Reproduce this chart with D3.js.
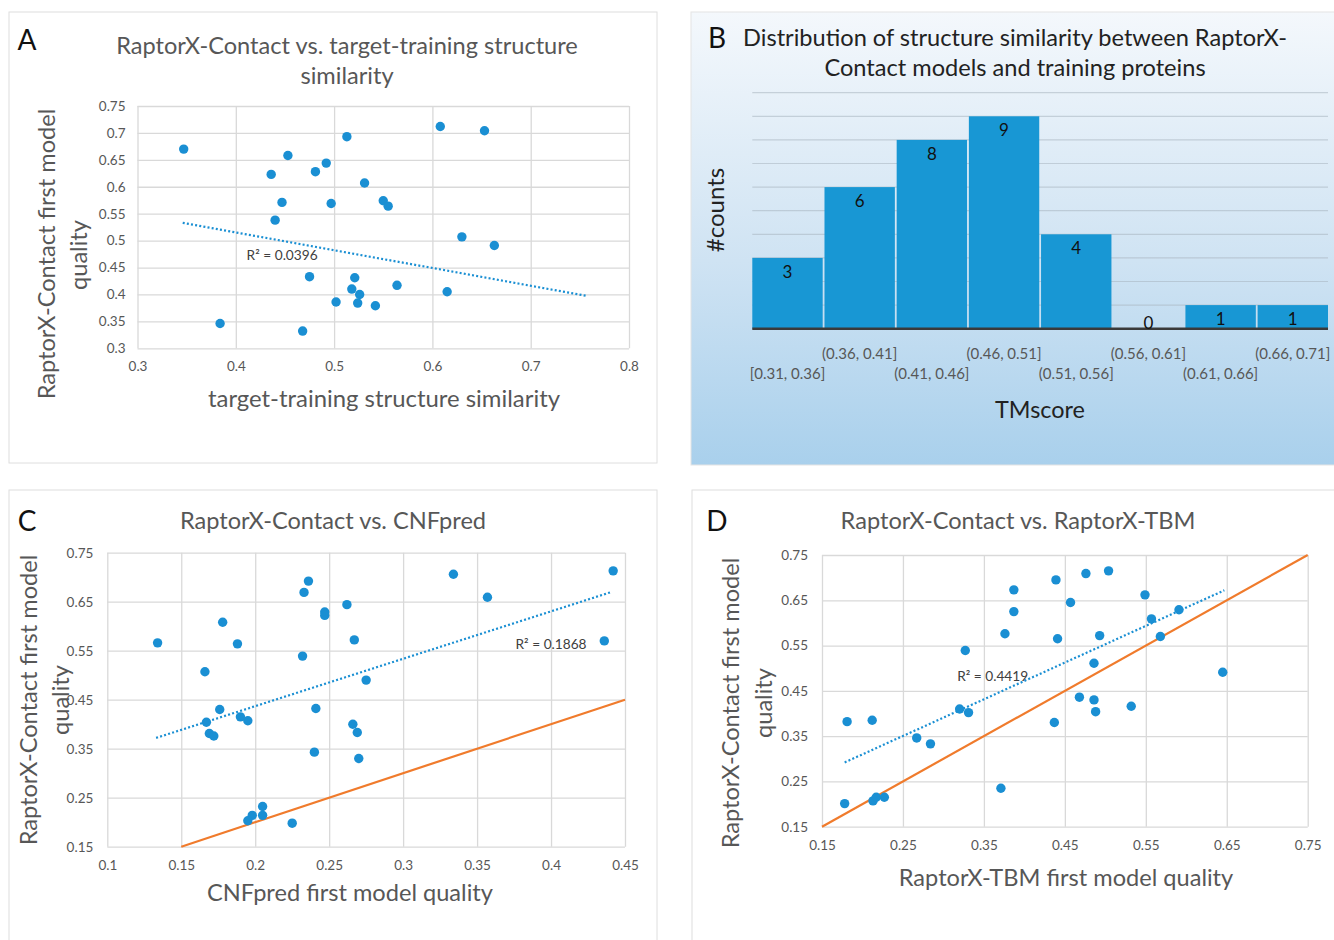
<!DOCTYPE html>
<html>
<head>
<meta charset="utf-8">
<script src="https://cdnjs.cloudflare.com/ajax/libs/d3/7.8.5/d3.min.js"></script>
<style>
  body { margin: 0; background: #fff; }
  svg text { font-family: Lato, "Open Sans", sans-serif; }
</style>
</head>
<body>
<div class="chart"></div>
<script>
const width = 1334;
const height = 940;

// A: target-training structure similarity vs RaptorX-Contact quality
const aSimilarity = [0.347, 0.436, 0.453, 0.447, 0.440, 0.481, 0.492, 0.513, 0.497, 0.531, 0.550, 0.555, 0.475, 0.521,
  0.518, 0.526, 0.502, 0.524, 0.542, 0.384, 0.468, 0.608, 0.653, 0.630, 0.663, 0.564, 0.615];
const aQuality = [0.670, 0.623, 0.658, 0.571, 0.538, 0.628, 0.644, 0.693, 0.569, 0.607, 0.574, 0.564, 0.433, 0.431,
  0.410, 0.400, 0.386, 0.384, 0.379, 0.346, 0.332, 0.712, 0.704, 0.507, 0.491, 0.417, 0.405];
const aTrend = [[0.346, 0.533], [0.758, 0.397]];
const aXTicks = [0.3, 0.4, 0.5, 0.6, 0.7, 0.8];
const aYTicks = [0.3, 0.35, 0.4, 0.45, 0.5, 0.55, 0.6, 0.65, 0.7, 0.75];

// B: histogram of TMscore
const bBins = ["[0.31, 0.36]", "(0.36, 0.41]", "(0.41, 0.46]", "(0.46, 0.51]", "(0.51, 0.56]", "(0.56, 0.61]", "(0.61, 0.66]", "(0.66, 0.71]"];
const bCounts = [3, 6, 8, 9, 4, 0, 1, 1];
const bGridTicks = [1, 2, 3, 4, 5, 6, 7, 8, 9, 10];

// C: CNFpred vs RaptorX-Contact
const cCnfpred = [0.134, 0.178, 0.188, 0.166, 0.176, 0.167, 0.169, 0.172, 0.190, 0.195, 0.236, 0.233, 0.247, 0.247, 0.262, 0.267,
  0.232, 0.275, 0.241, 0.266, 0.269, 0.240, 0.270, 0.205, 0.198, 0.195, 0.205, 0.225, 0.334, 0.357, 0.442, 0.436];
const cQuality = [0.566, 0.608, 0.564, 0.507, 0.430, 0.404, 0.381, 0.376, 0.415, 0.407, 0.692, 0.669, 0.629, 0.622, 0.644, 0.572,
  0.539, 0.490, 0.432, 0.400, 0.383, 0.343, 0.330, 0.232, 0.214, 0.203, 0.214, 0.198, 0.706, 0.659, 0.713, 0.570];
const cTrend = [[0.133, 0.372], [0.440, 0.669]];
const cXTicks = [0.1, 0.15, 0.2, 0.25, 0.3, 0.35, 0.4, 0.45];
const cYTicks = [0.15, 0.25, 0.35, 0.45, 0.55, 0.65, 0.75];

// D: RaptorX-TBM vs RaptorX-Contact
const dTbm = [0.181, 0.212, 0.178, 0.213, 0.217, 0.227, 0.267, 0.284, 0.320, 0.331, 0.327, 0.371, 0.376, 0.387, 0.387, 0.439,
  0.441, 0.437, 0.457, 0.476, 0.504, 0.549, 0.591, 0.557, 0.568, 0.493, 0.486, 0.645, 0.468, 0.486, 0.488, 0.532];
const dQuality = [0.382, 0.385, 0.201, 0.207, 0.215, 0.215, 0.346, 0.333, 0.410, 0.402, 0.539, 0.235, 0.576, 0.673, 0.625, 0.695,
  0.565, 0.380, 0.645, 0.709, 0.715, 0.662, 0.629, 0.609, 0.570, 0.572, 0.511, 0.491, 0.436, 0.430, 0.404, 0.416];
const dTrend = [[0.178, 0.292], [0.647, 0.672]];
const dXTicks = [0.15, 0.25, 0.35, 0.45, 0.55, 0.65, 0.75];
const dYTicks = [0.15, 0.25, 0.35, 0.45, 0.55, 0.65, 0.75];

const dotColor = "#1a8fd3";
const orange = "#f07b2c";
const gray = "#575757";
const fmt = d => String(+d.toFixed(2));

const svg = d3.select(".chart").append("svg")
  .attr("width", width)
  .attr("height", height);

const defs = svg.append("defs");
const grad = defs.append("linearGradient").attr("id", "bgB")
  .attr("x1", 0).attr("y1", 0).attr("x2", 0).attr("y2", 1);
grad.append("stop").attr("offset", "0%").attr("stop-color", "#f4f8fc");
grad.append("stop").attr("offset", "55%").attr("stop-color", "#cfe3f3");
grad.append("stop").attr("offset", "100%").attr("stop-color", "#a9d0ec");

// panel frames
svg.append("rect").attr("x", 9).attr("y", 12).attr("width", 648).attr("height", 451)
  .attr("fill", "#fff").attr("stroke", "#dedede");
svg.append("rect").attr("x", 691).attr("y", 12).attr("width", 650).attr("height", 453)
  .attr("fill", "url(#bgB)").attr("stroke", "#e4e4e4");
svg.append("rect").attr("x", 9).attr("y", 490).attr("width", 648).attr("height", 460)
  .attr("fill", "#fff").attr("stroke", "#dedede");
svg.append("rect").attr("x", 692).attr("y", 490).attr("width", 650).attr("height", 460)
  .attr("fill", "#fff").attr("stroke", "#dedede");

function addText(x, y, txt, size, color, anchor, rotate) {
  const t = svg.append("text")
    .attr("font-size", size)
    .attr("fill", color)
    .attr("text-anchor", anchor || "middle")
    .attr("dy", "0.35em")
    .text(txt);
  if (rotate) t.attr("transform", "translate(" + x + "," + y + ") rotate(-90)");
  else t.attr("x", x).attr("y", y);
  return t;
}

function scatter(p) {
  const x = d3.scaleLinear().domain([p.xTicks[0], p.xTicks[p.xTicks.length - 1]]).range([p.left, p.right]);
  const y = d3.scaleLinear().domain([p.yTicks[0], p.yTicks[p.yTicks.length - 1]]).range([p.bottom, p.top]);
  const g = svg.append("g");

  const yAxis = d3.axisLeft(y).tickValues(p.yTicks).tickFormat(fmt)
    .tickSizeInner(-(p.right - p.left)).tickSizeOuter(0).tickPadding(p.yPad);
  const gy = g.append("g").attr("transform", "translate(" + p.left + ",0)").call(yAxis);
  const xAxis = d3.axisBottom(x).tickValues(p.xTicks).tickFormat(fmt)
    .tickSizeInner(-(p.bottom - p.top)).tickSizeOuter(0).tickPadding(p.xPad);
  const gx = g.append("g").attr("transform", "translate(0," + p.bottom + ")").call(xAxis);
  [gx, gy].forEach(a => {
    a.select(".domain").remove();
    a.selectAll("line").attr("stroke", "#d9d9d9").attr("stroke-width", 1.3);
    a.selectAll("text").attr("fill", gray).attr("font-size", 13.5)
      .style("font-family", "Lato, sans-serif");
  });

  if (p.diag) {
    g.append("line")
      .attr("x1", x(p.diag[0])).attr("y1", y(p.diag[0]))
      .attr("x2", x(p.diag[1])).attr("y2", y(p.diag[1]))
      .attr("stroke", orange).attr("stroke-width", 2.2);
  }

  g.append("line")
    .attr("x1", x(p.trend[0][0])).attr("y1", y(p.trend[0][1]))
    .attr("x2", x(p.trend[1][0])).attr("y2", y(p.trend[1][1]))
    .attr("stroke", dotColor).attr("stroke-width", 2.2).attr("stroke-dasharray", "2,2.2");

  g.selectAll("circle").data(p.xs)
    .enter().append("circle")
    .attr("cx", d => x(d))
    .attr("cy", (d, i) => y(p.ys[i]))
    .attr("r", 4.7)
    .attr("fill", dotColor);

  g.append("text")
    .attr("x", x(p.r2[0])).attr("y", y(p.r2[1]))
    .attr("dy", "0.35em")
    .attr("font-size", 13.7).attr("fill", "#404040")
    .text(p.r2[2]);
}

const T = 23.6; // title / axis title size

// ---- A ----
scatter({ xs: aSimilarity, ys: aQuality, trend: aTrend, xTicks: aXTicks, yTicks: aYTicks,
  left: 137.5, right: 629, top: 106, bottom: 348.3, yPad: 12, xPad: 13,
  r2: [0.411, 0.473, "R² = 0.0396"] });
addText(347, 46, "RaptorX-Contact vs. target-training structure", T, gray);
addText(347, 76, "similarity", T, gray);
addText(27, 40, "A", 28, "#111");
addText(47, 254, "RaptorX-Contact first model", T, gray, "middle", true);
addText(79, 255, "quality", T, gray, "middle", true);
addText(384, 399, "target-training structure similarity", 23.9, gray);

// ---- C ----
scatter({ xs: cCnfpred, ys: cQuality, trend: cTrend, xTicks: cXTicks, yTicks: cYTicks,
  left: 107.3, right: 625, top: 552.7, bottom: 846.7, yPad: 14, xPad: 14, diag: [0.15, 0.45],
  r2: [0.376, 0.564, "R² = 0.1868"] });
addText(333, 521, "RaptorX-Contact vs. CNFpred", T, gray);
addText(27, 521, "C", 28, "#111");
addText(29, 700, "RaptorX-Contact first model", T, gray, "middle", true);
addText(61, 700, "quality", T, gray, "middle", true);
addText(350, 893, "CNFpred first model quality", T, gray);

// ---- D ----
scatter({ xs: dTbm, ys: dQuality, trend: dTrend, xTicks: dXTicks, yTicks: dYTicks,
  left: 822, right: 1307.7, top: 555, bottom: 826.7, yPad: 14, xPad: 14, diag: [0.15, 0.75],
  r2: [0.317, 0.483, "R² = 0.4419"] });
addText(1018, 521, "RaptorX-Contact vs. RaptorX-TBM", T, gray);
addText(717, 521, "D", 28, "#111");
addText(731, 703, "RaptorX-Contact first model", T, gray, "middle", true);
addText(764, 703, "quality", T, gray, "middle", true);
addText(1066, 878, "RaptorX-TBM first model quality", T, gray);

// ---- B ----
const bx = d3.scaleBand().domain(bBins).range([752.3, 1328]).paddingInner(0.025).paddingOuter(0);
const by = d3.scaleLinear().domain([0, 10]).range([328.7, 92.7]);
const gb = svg.append("g");
gb.selectAll("line.grid").data(bGridTicks).enter().append("line")
  .attr("class", "grid")
  .attr("x1", 752.3).attr("x2", 1328)
  .attr("y1", d => by(d)).attr("y2", d => by(d))
  .attr("stroke", "#a8b4bf").attr("stroke-opacity", 0.55).attr("stroke-width", 1.2);
gb.selectAll("rect").data(bCounts).enter().append("rect")
  .attr("x", (d, i) => bx(bBins[i]))
  .attr("y", d => by(d))
  .attr("width", bx.bandwidth())
  .attr("height", d => by(0) - by(d))
  .attr("fill", "#1897d4");
gb.append("line").attr("x1", 752.3).attr("x2", 1328).attr("y1", by(0)).attr("y2", by(0))
  .attr("stroke", "#3a3a3a").attr("stroke-width", 2.5);
gb.selectAll("text.val").data(bCounts).enter().append("text")
  .attr("class", "val")
  .attr("x", (d, i) => bx(bBins[i]) + bx.bandwidth() / 2)
  .attr("y", d => Math.min(by(d) + 14, by(0) - 6))
  .attr("dy", "0.35em")
  .attr("text-anchor", "middle")
  .attr("font-size", 17).attr("fill", "#111")
  .text(d => d);
gb.selectAll("text.bin").data(bBins).enter().append("text")
  .attr("class", "bin")
  .attr("x", d => bx(d) + bx.bandwidth() / 2)
  .attr("y", (d, i) => i % 2 === 0 ? 374 : 354)
  .attr("dy", "0.35em")
  .attr("text-anchor", "middle")
  .attr("font-size", 15).attr("fill", gray)
  .text(d => d);
addText(717, 38, "B", 28, "#111");
addText(1015, 38, "Distribution of structure similarity between RaptorX-", T, "#222");
addText(1015, 68, "Contact models and training proteins", T, "#222");
addText(716, 210, "#counts", 24, "#222", "middle", true);
addText(1040, 410, "TMscore", 23.4, "#222");
</script>
</body>
</html>
